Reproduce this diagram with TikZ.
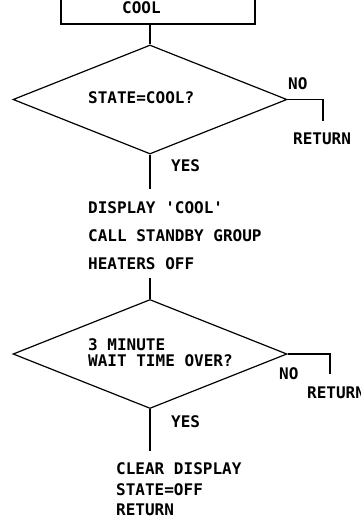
\documentclass[tikz,border=0pt]{standalone}
\usepackage{fontspec}
\newfontfamily\plotfont{DejaVu Sans Mono Bold}
\usetikzlibrary{shapes.geometric}
\begin{document}
\begin{tikzpicture}[x=1pt,y=-1pt,
  ln/.style={line width=1.2pt},
  txt/.style={font=\plotfont\fontsize{16}{18}\selectfont, anchor=base west, inner sep=0pt},
  dia/.style={draw, line width=1.2pt, shape=diamond, inner sep=0pt, minimum width=274pt, minimum height=109pt}]
\useasboundingbox (0,0) rectangle (360,519);
% top box (cut by top edge)
\node[draw, line width=1.2pt, inner sep=0pt, minimum width=194pt, minimum height=40pt] (box) at (158,4) {};
\node[txt] (tcool) at (122,14) {COOL};
% decision 1
\node[dia] (d1) at (150,99.5) {};
\node[txt] (q1) at (88,103) {STATE=COOL?};
\node[txt] (no1) at (288,89) {NO};
\node[txt] (ret1) at (293,144) {RETURN};
\node[txt] (yes1) at (171,171) {YES};
\coordinate (r1) at (323,121);
\coordinate (e1) at (150,189);
% actions
\node[txt] (a1) at (88,213) {DISPLAY 'COOL'};
\node[txt] (a2) at (88,241) {CALL STANDBY GROUP};
\node[txt] (a3) at (88,269) {HEATERS OFF};
\coordinate (s2) at (150,278);
% decision 2
\node[dia] (d2) at (150,354) {};
\node[txt] (q2a) at (88,350) {3 MINUTE};
\node[txt] (q2b) at (88,366) {WAIT TIME OVER?};
\node[txt] (no2) at (279,379) {NO};
\node[txt] (ret2) at (307,398) {RETURN};
\node[txt] (yes2) at (171,427) {YES};
\coordinate (r2) at (330,374);
\coordinate (e2) at (150,451);
% final
\node[txt] (f1) at (116,474) {CLEAR DISPLAY};
\node[txt] (f2) at (116,495.5) {STATE=OFF};
\node[txt] (f3) at (116,515.5) {RETURN};
% connectors
\draw[ln] (box.south -| d1.north) -- (d1.north);
\draw[ln] (d1.east) -| (r1);
\draw[ln] (d1.south) -- (e1);
\draw[ln] (s2) -- (d2.north);
\draw[ln] (d2.east) -| (r2);
\draw[ln] (d2.south) -- (e2);
\end{tikzpicture}
\end{document}
